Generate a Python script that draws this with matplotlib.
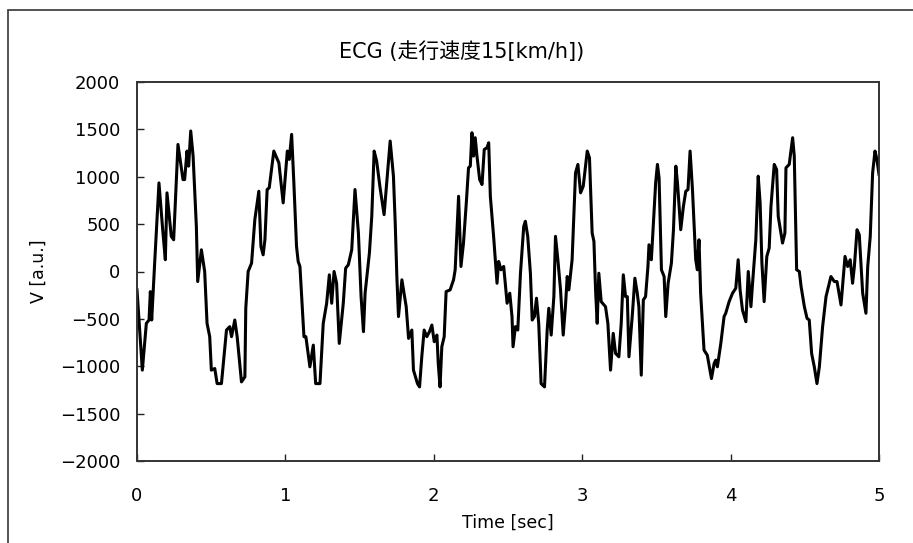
import matplotlib
matplotlib.use("Agg")
import matplotlib.pyplot as plt
from matplotlib.patches import Rectangle

# ECG trace while running at 15 km/h
time_sec = [
    0.000, 0.036, 0.063, 0.081, 0.090, 0.099, 0.119, 0.148, 0.175, 0.191,
    0.202, 0.231, 0.247, 0.276, 0.310, 0.321, 0.337, 0.348, 0.362, 0.378,
    0.400, 0.409, 0.434, 0.456, 0.472, 0.490, 0.501, 0.524, 0.540, 0.569,
    0.603, 0.625, 0.637, 0.659, 0.675, 0.704, 0.727, 0.733, 0.749, 0.772,
    0.794, 0.821, 0.835, 0.850, 0.862, 0.877, 0.891, 0.922, 0.956, 0.985,
    1.013, 1.026, 1.042, 1.057, 1.075, 1.086, 1.098, 1.125, 1.138, 1.165,
    1.188, 1.204, 1.233, 1.255, 1.278, 1.296, 1.312, 1.328, 1.345, 1.363,
    1.390, 1.406, 1.424, 1.447, 1.469, 1.492, 1.510, 1.526, 1.537, 1.566,
    1.582, 1.598, 1.615, 1.638, 1.665, 1.688, 1.706, 1.728, 1.740, 1.751,
    1.762, 1.785, 1.814, 1.830, 1.852, 1.863, 1.890, 1.904, 1.919, 1.935,
    1.953, 1.971, 1.987, 2.003, 2.021, 2.030, 2.042, 2.054, 2.070, 2.083,
    2.110, 2.133, 2.144, 2.167, 2.183, 2.200, 2.219, 2.234, 2.246, 2.257,
    2.268, 2.279, 2.291, 2.309, 2.325, 2.340, 2.358, 2.370, 2.381, 2.403,
    2.426, 2.437, 2.453, 2.471, 2.494, 2.512, 2.527, 2.534, 2.550, 2.566,
    2.584, 2.606, 2.617, 2.633, 2.651, 2.663, 2.678, 2.692, 2.707, 2.723,
    2.746, 2.764, 2.775, 2.791, 2.809, 2.820, 2.836, 2.854, 2.872, 2.887,
    2.899, 2.910, 2.932, 2.955, 2.971, 2.989, 3.007, 3.034, 3.049, 3.067,
    3.079, 3.090, 3.101, 3.112, 3.128, 3.157, 3.173, 3.191, 3.209, 3.225,
    3.247, 3.263, 3.277, 3.292, 3.304, 3.315, 3.337, 3.355, 3.371, 3.382,
    3.398, 3.412, 3.427, 3.443, 3.450, 3.466, 3.480, 3.495, 3.507, 3.518,
    3.534, 3.552, 3.563, 3.579, 3.601, 3.615, 3.631, 3.642, 3.664, 3.682,
    3.698, 3.713, 3.727, 3.743, 3.765, 3.776, 3.787, 3.798, 3.821, 3.843,
    3.871, 3.889, 3.900, 3.911, 3.934, 3.956, 3.967, 3.990, 4.013, 4.035,
    4.051, 4.064, 4.080, 4.103, 4.119, 4.137, 4.148, 4.170, 4.186, 4.199,
    4.211, 4.226, 4.244, 4.260, 4.272, 4.294, 4.310, 4.321, 4.350, 4.366,
    4.373, 4.395, 4.418, 4.429, 4.445, 4.463, 4.475, 4.497, 4.515, 4.530,
    4.546, 4.564, 4.582, 4.598, 4.620, 4.643, 4.676, 4.699, 4.717, 4.744,
    4.771, 4.789, 4.806, 4.822, 4.834, 4.852, 4.867, 4.890, 4.912, 4.924,
    4.941, 4.957, 4.973, 4.986, 5.000,
]
voltage_au = [
    -194, -1041, -547, -512, -212, -512, 88, 935, 406, 124,
    830, 370, 335, 1341, 970, 970, 1271, 1112, 1483, 1218,
    476, -106, 229, 0, -547, -688, -1041, -1024, -1183, -1183,
    -618, -582, -688, -512, -688, -1165, -1112, -388, 0, 88,
    547, 847, 265, 176, 335, 865, 883, 1271, 1147, 724,
    1271, 1183, 1447, 935, 265, 106, 53, -688, -688, -1006,
    -777, -1183, -1183, -547, -335, -35, -335, 0, -124, -759,
    -335, 35, 71, 229, 865, 406, -265, -635, -229, 194,
    582, 1271, 1165, 883, 600, 1041, 1377, 1006, 512, -53,
    -476, -88, -371, -706, -618, -1041, -1183, -1218, -900, -618,
    -688, -635, -565, -741, -671, -971, -1218, -794, -688, -212,
    -194, -88, 18, 794, 53, 300, 724, 1094, 1112, 1465,
    1218, 1412, 1218, 971, 918, 1288, 1306, 1359, 794, 371,
    -124, 106, 18, 53, -335, -229, -476, -794, -582, -618,
    -18, 476, 530, 371, -18, -512, -476, -282, -547, -1183,
    -1218, -618, -388, -671, -265, 371, 124, -194, -671, -371,
    -53, -194, 124, 1041, 1130, 830, 900, 1271, 1200, 406,
    318, -194, -547, -18, -318, -371, -547, -1041, -653, -865,
    -900, -547, -35, -265, -265, -900, -476, -71, -229, -371,
    -1094, -300, -265, 53, 282, 124, 512, 935, 1130, 989,
    18, -53, -476, -124, 88, 441, 1112, 935, 441, 688,
    847, 865, 1271, 865, 124, 18, 335, -229, -830, -883,
    -1130, -971, -935, -1006, -759, -476, -441, -318, -229, -177,
    124, -194, -406, -530, 0, -371, -124, 335, 1006, 724,
    88, -318, 159, 247, 688, 1130, 1077, 582, 300, 406,
    1094, 1130, 1412, 1218, 18, 0, -159, -371, -494, -512,
    -865, -1006, -1183, -1006, -582, -265, -53, -106, -106, -353,
    159, 53, 124, -124, 53, 441, 388, -229, -441, 53,
    371, 1041, 1271, 1183, 1024,
]

x_ticks = [0, 1, 2, 3, 4, 5]
y_ticks = [-2000, -1500, -1000, -500, 0, 500, 1000, 1500, 2000]

plt.rcParams["font.family"] = ["DejaVu Sans", "Noto Sans CJK JP"]

fig = plt.figure(figsize=(9.13, 5.43), dpi=100)
ax = fig.add_axes([137 / 913, 1 - 461 / 543, (879 - 137) / 913, (461 - 82) / 543])

ax.plot(time_sec, voltage_au, color="black", linewidth=2.2, solid_joinstyle="round")

ax.set_xlim(0, 5)
ax.set_ylim(-2000, 2000)
ax.set_xticks(x_ticks)
ax.set_yticks(y_ticks)
ax.set_yticklabels([f"{v:d}".replace("-", "\u2212") for v in y_ticks])
ax.tick_params(axis="both", direction="in", length=5, width=1.0, colors="#222222",
               labelsize=13, labelcolor="black")
ax.tick_params(axis="x", pad=19)
ax.tick_params(axis="y", pad=12)
for spine in ax.spines.values():
    spine.set_linewidth(1.4)
    spine.set_color("#333333")

ax.set_xlabel("Time [sec]", fontsize=12.5, labelpad=6)
ax.set_ylabel("V [a.u.]", fontsize=12.5, labelpad=9)
fig.text(462 / 913, 1 - 52 / 543, "ECG (走行速度15[km/h])", ha="center", va="center",
         fontsize=15, family=["DejaVu Sans", "Noto Sans CJK JP"])

# outer chart border
fig.patches.append(Rectangle((8 / 913, -0.05), 1.05, 1 - 10 / 543 + 0.05,
                             transform=fig.transFigure, fill=False,
                             edgecolor="#444444", linewidth=1.3))

fig.savefig("out.png", dpi=100)
